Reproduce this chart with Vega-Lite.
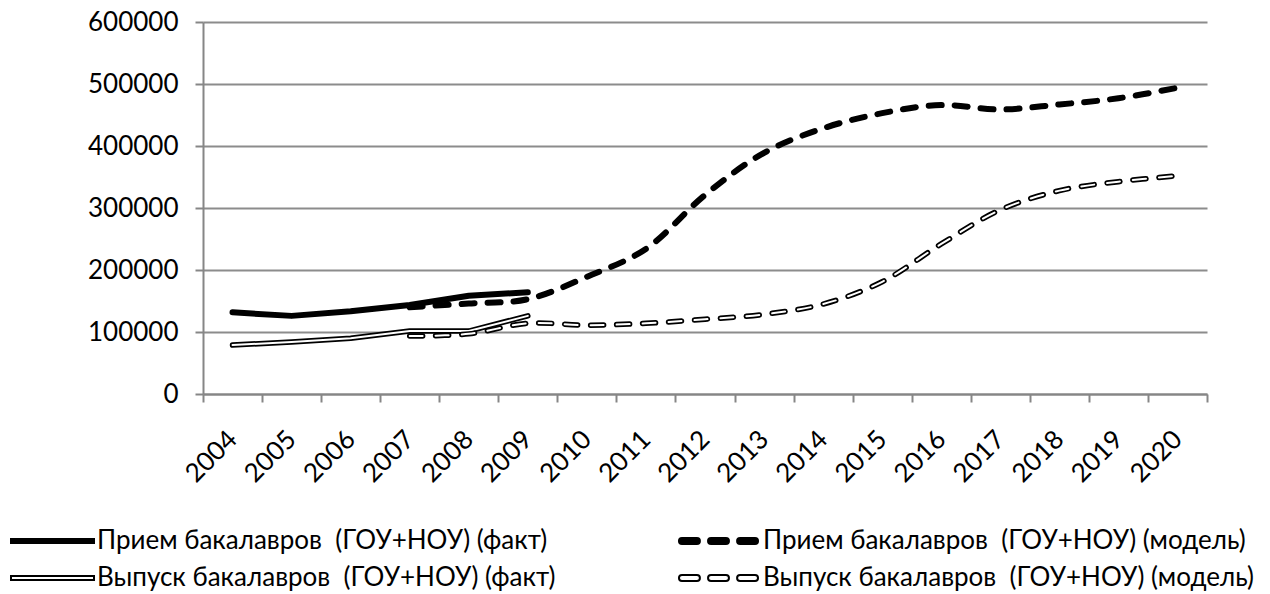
{
  "$schema": "https://vega.github.io/schema/vega-lite/v6.json",
  "width": 1004,
  "height": 372,
  "autosize": {"type": "none"},
  "padding": {"left": 203, "top": 22, "right": 63, "bottom": 200},
  "background": "white",
  "config": {
    "font": "Lato",
    "view": {"stroke": null},
    "axis": {"labelFont": "Lato", "labelColor": "black", "labelFontSize": 26, "domainColor": "#868686", "domainWidth": 2, "tickColor": "#868686", "tickWidth": 2, "tickSize": 8, "gridColor": "#8c8c8c", "gridWidth": 2, "title": null},
    "legend": {"title": null, "orient": "none", "legendX": -193, "legendY": 504, "direction": "horizontal", "columns": 2, "columnPadding": 120, "rowPadding": 7, "clipHeight": 30, "symbolSize": 6889, "symbolStrokeColor": "black", "symbolStrokeWidth": 2, "symbolOpacity": 1, "labelFont": "Lato", "labelFontSize": 26, "labelColor": "black", "labelLimit": 900, "labelOffset": 2}
  },
  "data": {
    "values": [
      {"series": "Прием бакалавров\u00a0 (ГОУ+НОУ) (факт)", "year": "2004", "value": 131700},
      {"series": "Прием бакалавров\u00a0 (ГОУ+НОУ) (факт)", "year": "2005", "value": 126000},
      {"series": "Прием бакалавров\u00a0 (ГОУ+НОУ) (факт)", "year": "2006", "value": 133500},
      {"series": "Прием бакалавров\u00a0 (ГОУ+НОУ) (факт)", "year": "2007", "value": 143500},
      {"series": "Прием бакалавров\u00a0 (ГОУ+НОУ) (факт)", "year": "2008", "value": 158500},
      {"series": "Прием бакалавров\u00a0 (ГОУ+НОУ) (факт)", "year": "2009", "value": 164000},
      {"series": "Прием бакалавров\u00a0 (ГОУ+НОУ) (модель)", "year": "2007", "value": 140000},
      {"series": "Прием бакалавров\u00a0 (ГОУ+НОУ) (модель)", "year": "2008", "value": 146000},
      {"series": "Прием бакалавров\u00a0 (ГОУ+НОУ) (модель)", "year": "2009", "value": 153000},
      {"series": "Прием бакалавров\u00a0 (ГОУ+НОУ) (модель)", "year": "2010", "value": 189000},
      {"series": "Прием бакалавров\u00a0 (ГОУ+НОУ) (модель)", "year": "2011", "value": 234000},
      {"series": "Прием бакалавров\u00a0 (ГОУ+НОУ) (модель)", "year": "2012", "value": 321000},
      {"series": "Прием бакалавров\u00a0 (ГОУ+НОУ) (модель)", "year": "2013", "value": 389000},
      {"series": "Прием бакалавров\u00a0 (ГОУ+НОУ) (модель)", "year": "2014", "value": 428500},
      {"series": "Прием бакалавров\u00a0 (ГОУ+НОУ) (модель)", "year": "2015", "value": 453000},
      {"series": "Прием бакалавров\u00a0 (ГОУ+НОУ) (модель)", "year": "2016", "value": 466000},
      {"series": "Прием бакалавров\u00a0 (ГОУ+НОУ) (модель)", "year": "2017", "value": 459000},
      {"series": "Прием бакалавров\u00a0 (ГОУ+НОУ) (модель)", "year": "2018", "value": 467000},
      {"series": "Прием бакалавров\u00a0 (ГОУ+НОУ) (модель)", "year": "2019", "value": 477000},
      {"series": "Прием бакалавров\u00a0 (ГОУ+НОУ) (модель)", "year": "2020", "value": 494000},
      {"series": "Выпуск бакалавров\u00a0 (ГОУ+НОУ) (факт)", "year": "2004", "value": 79000},
      {"series": "Выпуск бакалавров\u00a0 (ГОУ+НОУ) (факт)", "year": "2005", "value": 84000},
      {"series": "Выпуск бакалавров\u00a0 (ГОУ+НОУ) (факт)", "year": "2006", "value": 90000},
      {"series": "Выпуск бакалавров\u00a0 (ГОУ+НОУ) (факт)", "year": "2007", "value": 101500},
      {"series": "Выпуск бакалавров\u00a0 (ГОУ+НОУ) (факт)", "year": "2008", "value": 101500},
      {"series": "Выпуск бакалавров\u00a0 (ГОУ+НОУ) (факт)", "year": "2009", "value": 126000},
      {"series": "Выпуск бакалавров\u00a0 (ГОУ+НОУ) (модель)", "year": "2007", "value": 93500},
      {"series": "Выпуск бакалавров\u00a0 (ГОУ+НОУ) (модель)", "year": "2008", "value": 97000},
      {"series": "Выпуск бакалавров\u00a0 (ГОУ+НОУ) (модель)", "year": "2009", "value": 114000},
      {"series": "Выпуск бакалавров\u00a0 (ГОУ+НОУ) (модель)", "year": "2010", "value": 111000},
      {"series": "Выпуск бакалавров\u00a0 (ГОУ+НОУ) (модель)", "year": "2011", "value": 114000},
      {"series": "Выпуск бакалавров\u00a0 (ГОУ+НОУ) (модель)", "year": "2012", "value": 120500},
      {"series": "Выпуск бакалавров\u00a0 (ГОУ+НОУ) (модель)", "year": "2013", "value": 128500},
      {"series": "Выпуск бакалавров\u00a0 (ГОУ+НОУ) (модель)", "year": "2014", "value": 145000},
      {"series": "Выпуск бакалавров\u00a0 (ГОУ+НОУ) (модель)", "year": "2015", "value": 181000},
      {"series": "Выпуск бакалавров\u00a0 (ГОУ+НОУ) (модель)", "year": "2016", "value": 242000},
      {"series": "Выпуск бакалавров\u00a0 (ГОУ+НОУ) (модель)", "year": "2017", "value": 297000},
      {"series": "Выпуск бакалавров\u00a0 (ГОУ+НОУ) (модель)", "year": "2018", "value": 328000},
      {"series": "Выпуск бакалавров\u00a0 (ГОУ+НОУ) (модель)", "year": "2019", "value": 342500},
      {"series": "Выпуск бакалавров\u00a0 (ГОУ+НОУ) (модель)", "year": "2020", "value": 352000}
    ]
  },
  "encoding": {
    "x": {
      "field": "year", "type": "ordinal",
      "scale": {"type": "band", "paddingInner": 0, "paddingOuter": 0},
      "axis": {"labelAngle": -45, "labelAlign": "right", "labelBaseline": "middle", "labelPadding": 33, "tickBand": "extent", "grid": false, "labelOverlap": false}
    },
    "y": {
      "field": "value", "type": "quantitative",
      "scale": {"domain": [0, 600000], "nice": false},
      "axis": {"values": [0, 100000, 200000, 300000, 400000, 500000, 600000], "format": "d", "labelPadding": 17, "grid": true}
    }
  },
  "layer": [
    {
      "mark": {"type": "point", "opacity": 0, "filled": true},
      "encoding": {
        "shape": {
          "field": "series", "type": "nominal",
          "scale": {
            "domain": ["Прием бакалавров\u00a0 (ГОУ+НОУ) (факт)", "Прием бакалавров\u00a0 (ГОУ+НОУ) (модель)", "Выпуск бакалавров\u00a0 (ГОУ+НОУ) (факт)", "Выпуск бакалавров\u00a0 (ГОУ+НОУ) (модель)"],
            "range": [
              "M-1,-0.05L1,-0.05L1,0.05L-1,0.05Z",
              "M-0.88,-0.072L-0.52,-0.072A0.072,0.072 0 0 1 -0.52,0.072L-0.88,0.072A0.072,0.072 0 0 1 -0.88,-0.072ZM-0.18,-0.072L0.18,-0.072A0.072,0.072 0 0 1 0.18,0.072L-0.18,0.072A0.072,0.072 0 0 1 -0.18,-0.072ZM0.52,-0.072L0.88,-0.072A0.072,0.072 0 0 1 0.88,0.072L0.52,0.072A0.072,0.072 0 0 1 0.52,-0.072Z",
              "M-1,-0.05L1,-0.05L1,0.05L-1,0.05Z",
              "M-0.88,-0.072L-0.52,-0.072A0.072,0.072 0 0 1 -0.52,0.072L-0.88,0.072A0.072,0.072 0 0 1 -0.88,-0.072ZM-0.18,-0.072L0.18,-0.072A0.072,0.072 0 0 1 0.18,0.072L-0.18,0.072A0.072,0.072 0 0 1 -0.18,-0.072ZM0.52,-0.072L0.88,-0.072A0.072,0.072 0 0 1 0.88,0.072L0.52,0.072A0.072,0.072 0 0 1 0.52,-0.072Z"
            ]
          },
          "legend": {}
        },
        "fill": {
          "field": "series", "type": "nominal",
          "scale": {
            "domain": ["Прием бакалавров\u00a0 (ГОУ+НОУ) (факт)", "Прием бакалавров\u00a0 (ГОУ+НОУ) (модель)", "Выпуск бакалавров\u00a0 (ГОУ+НОУ) (факт)", "Выпуск бакалавров\u00a0 (ГОУ+НОУ) (модель)"],
            "range": ["black", "black", "white", "white"]
          },
          "legend": {}
        },
        "stroke": {
          "field": "series", "type": "nominal",
          "scale": {
            "domain": ["Прием бакалавров\u00a0 (ГОУ+НОУ) (факт)", "Прием бакалавров\u00a0 (ГОУ+НОУ) (модель)", "Выпуск бакалавров\u00a0 (ГОУ+НОУ) (факт)", "Выпуск бакалавров\u00a0 (ГОУ+НОУ) (модель)"],
            "range": ["black", "black", "black", "black"]
          },
          "legend": {}
        }
      }
    },
    {
      "transform": [{"filter": {"field": "series", "equal": "Выпуск бакалавров\u00a0 (ГОУ+НОУ) (факт)"}}],
      "mark": {"type": "line", "color": "black", "strokeWidth": 5.5, "strokeCap": "round", "strokeJoin": "round"}
    },
    {
      "transform": [{"filter": {"field": "series", "equal": "Выпуск бакалавров\u00a0 (ГОУ+НОУ) (факт)"}}],
      "mark": {"type": "line", "color": "white", "strokeWidth": 2, "strokeCap": "round", "strokeJoin": "round"}
    },
    {
      "transform": [{"filter": {"field": "series", "equal": "Выпуск бакалавров\u00a0 (ГОУ+НОУ) (модель)"}}],
      "mark": {"type": "line", "color": "black", "strokeWidth": 5.5, "strokeCap": "round", "strokeDash": [13, 13], "interpolate": "catmull-rom"}
    },
    {
      "transform": [{"filter": {"field": "series", "equal": "Выпуск бакалавров\u00a0 (ГОУ+НОУ) (модель)"}}],
      "mark": {"type": "line", "color": "white", "strokeWidth": 2, "strokeCap": "round", "strokeDash": [13, 13], "interpolate": "catmull-rom"}
    },
    {
      "transform": [{"filter": {"field": "series", "equal": "Прием бакалавров\u00a0 (ГОУ+НОУ) (факт)"}}],
      "mark": {"type": "line", "color": "black", "strokeWidth": 6, "strokeCap": "round", "strokeJoin": "round"}
    },
    {
      "transform": [{"filter": {"field": "series", "equal": "Прием бакалавров\u00a0 (ГОУ+НОУ) (модель)"}}],
      "mark": {"type": "line", "color": "black", "strokeWidth": 6, "strokeCap": "round", "strokeDash": [13, 13], "interpolate": "catmull-rom"}
    }
  ]
}
